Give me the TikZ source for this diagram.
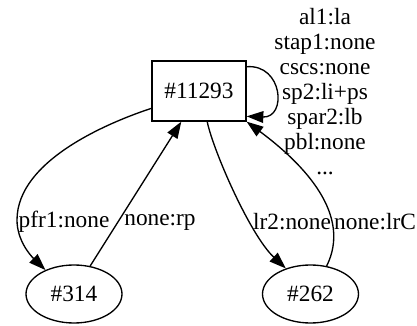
\documentclass[tikz,border=0pt]{standalone}
\usepackage{fontspec}
\setmainfont{Liberation Serif}
\usetikzlibrary{shapes.geometric,arrows.meta}
\begin{document}
\begin{tikzpicture}[x=0.6pt,y=-0.6pt,
  every node/.style={font=\fontsize{14pt}{15pt}\selectfont},
  boxnode/.style={draw,line width=0.8pt,rectangle,minimum width=56.4pt,minimum height=36pt,inner sep=0pt},
  ellnode/.style={draw,line width=0.8pt,ellipse,minimum width=57.6pt,minimum height=34.8pt,inner sep=0pt},
  edge/.style={line width=0.8pt,-{Triangle[length=10pt,width=7pt]}},
  lbl/.style={inner sep=0pt,align=center}]
\useasboundingbox (0,0) rectangle (417,326);
\node[boxnode] (b) at (199,91) {\#11293};
\node[ellnode] (a) at (74,294) {\#314};
\node[ellnode] (c) at (310.5,294) {\#262};
% edges
\draw[edge] (b.200) .. controls (110,122) and (17,160) .. (17,220)
   .. controls (17,240) and (30,255) .. (a.140);
\draw[edge] (a.60) -- (b.240);
\draw[edge] (b.285) .. controls (213,150) and (250,235) .. (c.134);
\draw[edge] (c.60) .. controls (352,215) and (305,165) .. (b.south east);
\draw[edge] (b.27) .. controls (283,64) and (287,118) .. (b.-28);
% labels
\node[lbl] (l1) at (64,222) {pfr1:none};
\node[lbl] (l2) at (160,222) {none:rp};
\node[lbl] (l3) at (292,222) {lr2:none};
\node[lbl] (l4) at (375,222) {none:lrC};
\node[lbl] (l5) at (325,92) {al1:la\\stap1:none\\cscs:none\\sp2:li+ps\\spar2:lb\\pbl:none\\...};
\end{tikzpicture}
\end{document}
